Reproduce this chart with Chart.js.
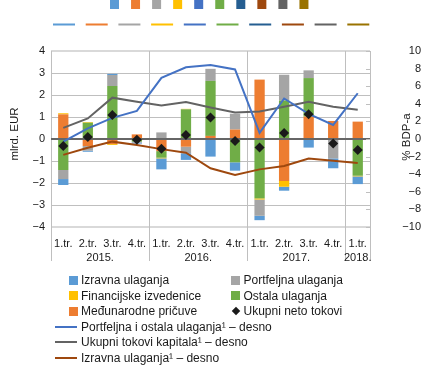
<!DOCTYPE html>
<html>
<head>
<meta charset="utf-8">
<script src="https://cdn.jsdelivr.net/npm/chart.js@4.4.1/dist/chart.umd.min.js"></script>
<style>
  html, body { margin: 0; padding: 0; background: #fff; }
  #wrap { position: relative; width: 421px; height: 370px; font-family: "Liberation Sans", Arial, sans-serif; color: #1a1a1a; }
  #c { position: absolute; left: 0; top: 0; }
  .leg { position: absolute; font-size: 12px; line-height: 14px; white-space: nowrap; }
  .leg span.m { position: absolute; }
</style>
</head>
<body>
<div id="wrap">
  <canvas id="c" width="421" height="370"></canvas>
  <div id="legend"></div>
</div>
<script>
// kategorije (tromjesečja) i godine
const categories = ['1.tr.', '2.tr.', '3.tr.', '4.tr.', '1.tr.', '2.tr.', '3.tr.', '4.tr.', '1.tr.', '2.tr.', '3.tr.', '4.tr.', '1.tr.'];
const years = ['2015.', '2016.', '2017.', '2018.'];
const yearSpans = [4, 4, 4, 1];

// stupci, mlrd. EUR (lijevo)
const medjunarodnePricuve = [1.12, -0.32, -0.23, 0.21, -0.55, -0.35, 0.14, 0.43, 2.70, -1.91, 1.02, 0.82, 0.79];
const ostalaUlaganja = [-1.41, 0.74, 2.41, -0.12, -0.30, 1.35, 2.50, -1.06, -2.70, 1.75, 1.75, 0, -1.67];
const financijskeIzvedenice = [0.05, 0.03, -0.04, 0, -0.03, 0.02, 0, 0, -0.05, -0.26, 0, 0, -0.03];
const portfeljnaUlaganja = [-0.41, -0.21, 0.50, -0.04, 0.30, -0.30, 0.55, 0.72, -0.74, 1.17, 0.35, -0.88, 0];
const izravnaUlaganja = [-0.27, -0.05, 0.05, -0.05, -0.50, -0.30, -0.80, -0.38, -0.20, -0.18, -0.39, -0.45, -0.35];
const ukupniNetoTokovi = [-0.32, 0.09, 1.09, -0.03, -0.44, 0.18, 0.98, -0.09, -0.39, 0.27, 1.12, -0.20, -0.50];

// linije, % BDP-a (desno)
const portfeljnaIOstalaBdp = [-0.3, 1.2, 2.4, 3.2, 6.95, 8.15, 8.4, 7.9, 0.7, 4.6, 2.85, 1.6, 5.2];
const ukupniTokoviBdp = [1.27, 2.33, 4.7, 4.24, 3.8, 4.2, 3.58, 3.0, 3.12, 3.67, 4.24, 3.67, 3.32];
const izravnaBdp = [-1.8, -1.0, -0.3, -0.68, -1.15, -1.55, -3.33, -4.1, -3.45, -3.07, -2.23, -2.46, -2.72];

// prazne stavke legende na vrhu (Excel ostatak)
const ghostColors = ['#5B9BD5', '#ED7D31', '#A5A5A5', '#FFC000', '#4472C4', '#70AD47', '#255E91', '#9E480E', '#636363', '#997300'];

const FONT = '"Liberation Sans", Arial, sans-serif';
const minus = v => String(v).replace('-', '\u2212');

const decor = {
  id: 'decor',
  beforeDraw(chart) {
    const ctx = chart.ctx;
    ctx.save();
    ghostColors.forEach((c, i) => {
      ctx.fillStyle = c;
      ctx.fillRect(110 + i * 21.05, 0, 9, 9);
      ctx.fillRect(53 + i * 32.7, 23.5, 22, 2);
    });
    ctx.restore();
  },
  beforeDatasetsDraw(chart) {
    const { ctx, chartArea: a, scales: { x } } = chart;
    chart.$zeroDone = false;
    ctx.save();
    ctx.strokeStyle = '#BFBFBF';
    ctx.lineWidth = 1;
    let idx = 0;
    const bounds = [0];
    yearSpans.forEach(n => { idx += n; bounds.push(idx); });
    bounds.forEach(i => {
      let px;
      if (i === 0) px = a.left;
      else if (i >= categories.length) px = a.right;
      else px = (x.getPixelForValue(i - 1) + x.getPixelForValue(i)) / 2;
      px = Math.round(px) + 0.5;
      ctx.beginPath();
      ctx.moveTo(px, a.top);
      ctx.lineTo(px, a.bottom + 34);
      ctx.stroke();
    });
    ctx.restore();
  },
  beforeDatasetDraw(chart, args) {
    if (chart.$zeroDone || args.meta.type === 'bar') return;
    chart.$zeroDone = true;
    const { ctx, chartArea: a, scales: { y } } = chart;
    const py = y.getPixelForValue(0);
    ctx.save();
    ctx.strokeStyle = '#666666';
    ctx.lineWidth = 2;
    ctx.beginPath();
    ctx.moveTo(a.left, py);
    ctx.lineTo(a.right, py);
    ctx.stroke();
    ctx.restore();
  },
  afterDraw(chart) {
    const { ctx, chartArea: a, scales: { x, y1 } } = chart;
    ctx.save();
    // kratke crtice desne osi
    ctx.strokeStyle = '#BFBFBF';
    ctx.lineWidth = 1;
    y1.ticks.forEach(t => {
      const py = Math.round(y1.getPixelForValue(t.value)) + 0.5;
      ctx.beginPath();
      ctx.moveTo(a.right - 4, py);
      ctx.lineTo(a.right, py);
      ctx.stroke();
    });
    // godine
    ctx.fillStyle = '#1a1a1a';
    ctx.font = '11px ' + FONT;
    ctx.textAlign = 'center';
    ctx.textBaseline = 'middle';
    let start = 0;
    yearSpans.forEach((n, k) => {
      const l = start === 0 ? a.left : (x.getPixelForValue(start - 1) + x.getPixelForValue(start)) / 2;
      const e = start + n;
      const r = e >= categories.length ? a.right : (x.getPixelForValue(e - 1) + x.getPixelForValue(e)) / 2;
      ctx.fillText(years[k], (l + r) / 2, a.bottom + 31);
      start = e;
    });
    // naslovi osi
    ctx.font = '11.5px ' + FONT;
    ctx.save();
    ctx.translate(15, 134);
    ctx.rotate(-Math.PI / 2);
    ctx.fillText('mlrd. EUR', 0, 0);
    ctx.restore();
    ctx.save();
    ctx.translate(407, 137);
    ctx.rotate(-Math.PI / 2);
    ctx.fillText('% BDP-a', 0, 0);
    ctx.restore();
    ctx.restore();
  }
};

const bar = (label, data, color) => ({
  type: 'bar', label, data, backgroundColor: color, borderWidth: 0,
  stack: 's', yAxisID: 'y', order: 3, categoryPercentage: 0.42, barPercentage: 1
});
const line = (label, data, color) => ({
  type: 'line', label, data, borderColor: color, backgroundColor: color, borderWidth: 2,
  pointRadius: 0, tension: 0, yAxisID: 'y1', order: 2
});

new Chart(document.getElementById('c'), {
  data: {
    labels: categories,
    datasets: [
      bar('Međunarodne pričuve', medjunarodnePricuve, '#ED7D31'),
      bar('Ostala ulaganja', ostalaUlaganja, '#70AD47'),
      bar('Financijske izvedenice', financijskeIzvedenice, '#FFC000'),
      bar('Portfeljna ulaganja', portfeljnaUlaganja, '#A5A5A5'),
      bar('Izravna ulaganja', izravnaUlaganja, '#5B9BD5'),
      line('Portfeljna i ostala ulaganja¹ – desno', portfeljnaIOstalaBdp, '#4472C4'),
      line('Ukupni tokovi kapitala¹ – desno', ukupniTokoviBdp, '#636363'),
      line('Izravna ulaganja¹ – desno', izravnaBdp, '#9E480E'),
      {
        type: 'line', label: 'Ukupni neto tokovi', data: ukupniNetoTokovi, showLine: false,
        pointStyle: 'rectRot', pointRadius: 5, pointBackgroundColor: '#1a1a1a', pointBorderColor: '#1a1a1a',
        pointBorderWidth: 0, yAxisID: 'y', order: 1
      }
    ]
  },
  options: {
    responsive: false,
    animation: false,
    layout: { padding: { top: 51, left: 0, right: 0, bottom: 0 } },
    plugins: { legend: { display: false }, tooltip: { enabled: false } },
    scales: {
      x: {
        stacked: true,
        grid: { display: false },
        border: { display: false },
        ticks: { color: '#1a1a1a', font: { family: FONT, size: 11 }, padding: 2, maxRotation: 0, autoSkip: false },
        afterFit: s => { s.height = 143; }
      },
      y: {
        stacked: true,
        position: 'left',
        min: -4, max: 4,
        border: { display: false },
        grid: {
          drawTicks: false,
          color: c => c.tick.value === 0 ? 'rgba(0,0,0,0)' : (Math.abs(c.tick.value) === 4 ? '#D9D9D9' : '#BFBFBF'),
          lineWidth: c => Math.abs(c.tick.value) === 4 ? 2 : 1
        },
        ticks: { stepSize: 1, color: '#1a1a1a', font: { family: FONT, size: 11 }, padding: 6, callback: v => minus(v) },
        afterFit: s => { s.width = 51; }
      },
      y1: {
        position: 'right',
        min: -10, max: 10,
        border: { display: false },
        grid: { drawOnChartArea: false, drawTicks: false },
        ticks: { stepSize: 2, color: '#1a1a1a', font: { family: FONT, size: 11 }, padding: 6, crossAlign: 'far', callback: v => minus(v) },
        afterFit: s => { s.width = 51; }
      }
    }
  },
  plugins: [decor]
});

// legenda ispod grafikona
const legendItems = [
  { label: 'Izravna ulaganja', color: '#5B9BD5', kind: 'box', col: 0, row: 0 },
  { label: 'Portfeljna ulaganja', color: '#A5A5A5', kind: 'box', col: 1, row: 0 },
  { label: 'Financijske izvedenice', color: '#FFC000', kind: 'box', col: 0, row: 1 },
  { label: 'Ostala ulaganja', color: '#70AD47', kind: 'box', col: 1, row: 1 },
  { label: 'Međunarodne pričuve', color: '#ED7D31', kind: 'box', col: 0, row: 2 },
  { label: 'Ukupni neto tokovi', color: '#1a1a1a', kind: 'diamond', col: 1, row: 2 },
  { label: 'Portfeljna i ostala ulaganja¹ – desno', color: '#4472C4', kind: 'line', col: 0, row: 3 },
  { label: 'Ukupni tokovi kapitala¹ – desno', color: '#636363', kind: 'line', col: 0, row: 4 },
  { label: 'Izravna ulaganja¹ – desno', color: '#9E480E', kind: 'line', col: 0, row: 5 }
];
const legendEl = document.getElementById('legend');
legendItems.forEach(it => {
  const d = document.createElement('div');
  d.className = 'leg';
  const textX = it.col === 0 ? 81 : 243.5;
  const cy = 280 + it.row * 15.5;
  d.style.left = textX + 'px';
  d.style.top = (cy - 7) + 'px';
  d.textContent = it.label;
  const m = document.createElement('span');
  m.className = 'm';
  if (it.kind === 'box') {
    Object.assign(m.style, { left: '-12.5px', top: '2.5px', width: '9px', height: '9px', background: it.color });
  } else if (it.kind === 'diamond') {
    Object.assign(m.style, { left: '-10.5px', top: '4px', width: '6px', height: '6px', background: it.color, transform: 'rotate(45deg)' });
  } else {
    Object.assign(m.style, { left: '-26px', top: '6px', width: '22px', height: '2px', background: it.color });
  }
  d.appendChild(m);
  legendEl.appendChild(d);
});
</script>
</body>
</html>
